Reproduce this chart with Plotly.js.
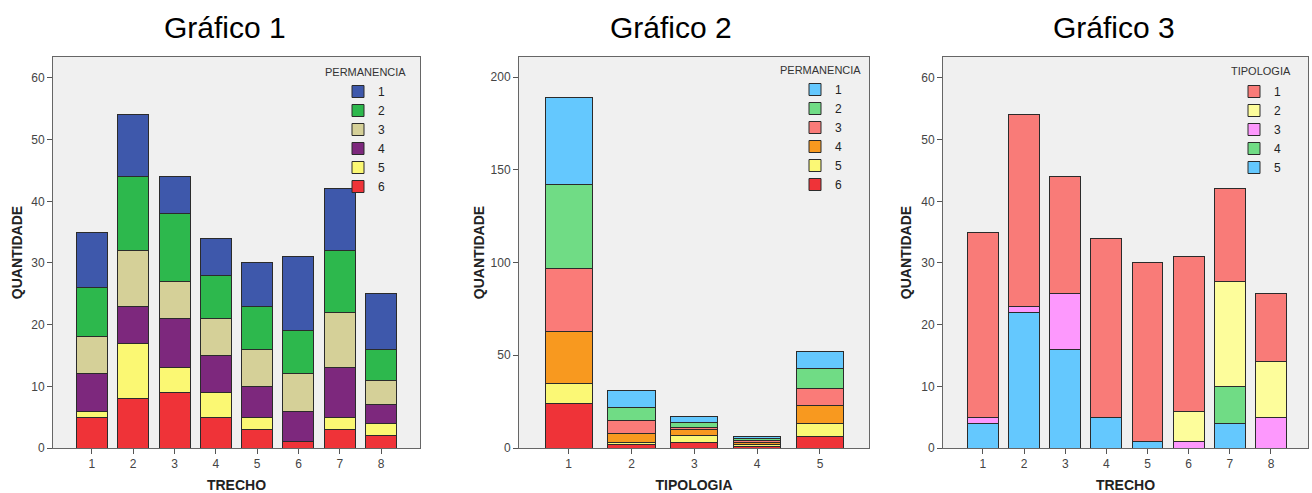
<!DOCTYPE html>
<html>
<head>
<meta charset="utf-8">
<script src="https://cdn.plot.ly/plotly-3.0.1.min.js"></script>
<style>
  html, body { margin: 0; padding: 0; background: #ffffff; }
  #chart { width: 1312px; height: 493px; }
</style>
</head>
<body>
<div id="chart"></div>
<script>
// ---------- DATA ----------
const trechos = [1, 2, 3, 4, 5, 6, 7, 8];
const tipologias = [1, 2, 3, 4, 5];
const permanenciaNames = ['1', '2', '3', '4', '5', '6'];
const tipologiaNames = ['1', '2', '3', '4', '5'];

// Gráfico 1: quantidade por trecho, por permanência
const g1_perm1 = [9, 10, 6, 6, 7, 12, 10, 9];
const g1_perm2 = [8, 12, 11, 7, 7, 7, 10, 5];
const g1_perm3 = [6, 9, 6, 6, 6, 6, 9, 4];
const g1_perm4 = [6, 6, 8, 6, 5, 5, 8, 3];
const g1_perm5 = [1, 9, 4, 4, 2, 0, 2, 2];
const g1_perm6 = [5, 8, 9, 5, 3, 1, 3, 2];

// Gráfico 2: quantidade por tipologia, por permanência
const g2_perm1 = [47, 9, 3, 1, 9];
const g2_perm2 = [45, 7, 3, 1, 11];
const g2_perm3 = [34, 7, 1, 1, 9];
const g2_perm4 = [28, 5, 3, 1, 10];
const g2_perm5 = [11, 1, 4, 1, 7];
const g2_perm6 = [24, 2, 3, 1, 6];

// Gráfico 3: quantidade por trecho, por tipologia
const g3_tipo1 = [30, 31, 19, 29, 29, 25, 15, 11];
const g3_tipo2 = [0, 0, 0, 0, 0, 5, 17, 9];
const g3_tipo3 = [1, 1, 9, 0, 0, 1, 0, 5];
const g3_tipo4 = [0, 0, 0, 0, 0, 0, 6, 0];
const g3_tipo5 = [4, 22, 16, 5, 1, 0, 4, 0];

const chartTitles = ['Gráfico 1', 'Gráfico 2', 'Gráfico 3'];
const yTitle = 'QUANTIDADE';
const xTitles = ['TRECHO', 'TIPOLOGIA', 'TRECHO'];
const legendTitles = ['PERMANENCIA', 'PERMANENCIA', 'TIPOLOGIA'];

// ---------- STYLE ----------
const colors1 = ['#3e58ab', '#2db84d', '#d5d098', '#7d287d', '#fbf873', '#ef3338'];
const colors2 = ['#64c8fe', '#70dc85', '#fa7b78', '#f8991f', '#fbf875', '#ef3338'];
const colors3 = ['#f97b78', '#fdfd9b', '#fd98fd', '#70dc85', '#64c8fe'];
const FONT = 'Liberation Sans, Arial, sans-serif';
const W = 1312, H = 493;

const g1 = [g1_perm1, g1_perm2, g1_perm3, g1_perm4, g1_perm5, g1_perm6];
const g2 = [g2_perm1, g2_perm2, g2_perm3, g2_perm4, g2_perm5, g2_perm6];
const g3 = [g3_tipo1, g3_tipo2, g3_tipo3, g3_tipo4, g3_tipo5];

const traces = [];
function addSeries(series, names, colors, xcats, xa, ya, leg) {
  // stack from bottom (last class) to top (first class)
  for (let i = series.length - 1; i >= 0; i--) {
    traces.push({
      type: 'bar',
      x: xcats,
      y: series[i],
      name: names[i],
      xaxis: xa, yaxis: ya, legend: leg,
      marker: { color: colors[i], line: { color: '#2b2b2b', width: 1 } },
      hoverinfo: 'x+y+name'
    });
  }
}
addSeries(g1, permanenciaNames, colors1, trechos, 'x', 'y', 'legend');
addSeries(g2, permanenciaNames, colors2, tipologias, 'x2', 'y2', 'legend2');
addSeries(g3, tipologiaNames, colors3, trechos, 'x3', 'y3', 'legend3');

const px = v => v / W;
const py = v => 1 - v / H;

const yDomain = [py(448), py(57)];
const panels = [
  { xd: [px(53), px(420)], xr: [0.06, 8.94], yr: [0, 63.4], dt: 10, ticks: trechos, tx: 225, so: 5 },
  { xd: [px(519), px(869)], xr: [0.21, 5.78], yr: [0, 210.8], dt: 50, ticks: tipologias, tx: 671, so: 2 },
  { xd: [px(943), px(1308)], xr: [0.03, 8.9], yr: [0, 63.4], dt: 10, ticks: trechos, tx: 1114, so: 6 }
];

const layout = {
  width: W, height: H,
  margin: { l: 0, r: 0, t: 0, b: 0 },
  paper_bgcolor: '#ffffff',
  plot_bgcolor: '#f0f0f0',
  barmode: 'stack',
  bargap: 0.25,
  font: { family: FONT, size: 12, color: '#333' },
  showlegend: true,
  annotations: []
};

panels.forEach((p, k) => {
  const s = k === 0 ? '' : String(k + 1);
  layout['xaxis' + s] = {
    domain: p.xd, range: p.xr, anchor: 'y' + s,
    tickmode: 'array', tickvals: p.ticks, ticktext: p.ticks.map(String),
    ticks: 'outside', ticklen: 5, tickcolor: '#555', tickwidth: 1,
    tickfont: { family: FONT, size: 12, color: '#444' },
    showline: true, linecolor: '#666', linewidth: 1, mirror: true,
    showgrid: false, zeroline: false, fixedrange: true,
    title: { text: xTitles[k], font: { family: FONT, size: 14, color: '#222', weight: 'bold' }, standoff: 14 }
  };
  layout['yaxis' + s] = {
    domain: yDomain, range: p.yr, anchor: 'x' + s,
    dtick: p.dt, tick0: 0,
    ticks: 'outside', ticklen: 5, tickcolor: '#555', tickwidth: 1,
    tickfont: { family: FONT, size: 12, color: '#444' },
    showline: true, linecolor: '#666', linewidth: 1, mirror: true,
    showgrid: false, zeroline: false, fixedrange: true,
    title: { text: yTitle, font: { family: FONT, size: 14, color: '#222', weight: 'bold' }, standoff: p.so }
  };
  // chart title
  layout.annotations.push({
    text: chartTitles[k], xref: 'paper', yref: 'paper',
    x: px(p.tx), y: py(28), xanchor: 'center', yanchor: 'middle',
    showarrow: false, font: { family: FONT, size: 30, color: '#000' }
  });
});

// legends
const legendPos = [
  { x: 338, y: 77, tx: 365, ty: 72 },
  { x: 795, y: 75, tx: 820, ty: 70 },
  { x: 1234, y: 77, tx: 1261, ty: 71 }
];
['legend', 'legend2', 'legend3'].forEach((lg, k) => {
  const L = legendPos[k];
  layout[lg] = {
    x: px(L.x), y: py(L.y), xanchor: 'left', yanchor: 'top',
    bgcolor: 'rgba(0,0,0,0)', borderwidth: 0,
    traceorder: 'reversed',
    font: { family: FONT, size: 12, color: '#222' },
    itemclick: false, itemdoubleclick: false
  };
  layout.annotations.push({
    text: legendTitles[k], xref: 'paper', yref: 'paper',
    x: px(L.tx), y: py(L.ty), xanchor: 'center', yanchor: 'middle',
    showarrow: false, font: { family: FONT, size: 11, color: '#333' }
  });
});

Plotly.newPlot('chart', traces, layout, { displayModeBar: false, staticPlot: true });
</script>
</body>
</html>
